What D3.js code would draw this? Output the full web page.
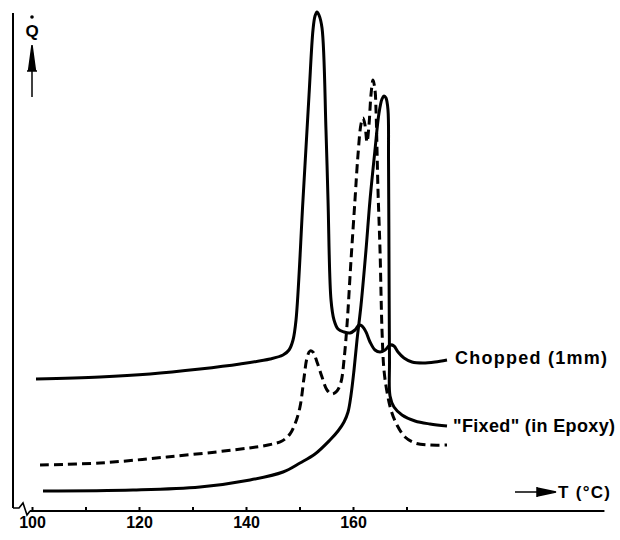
<!DOCTYPE html>
<html><head><meta charset="utf-8">
<script src="https://cdn.jsdelivr.net/npm/d3@7"></script>
<style>body{margin:0;background:#fff} svg{display:block} text{font-family:"Liberation Sans",Arial,Helvetica,sans-serif;font-weight:bold;fill:#000}</style>
</head><body><svg id="c" width="620" height="540"></svg>
<script>
// Temperature (°C) and heat-flow (arbitrary units)
const choppedT = [100.75,112.71,122.06,131.40,138.88,144.49,146.92,148.04,148.79,149.35,150.65,151.78,152.52,152.90,153.27,153.64,154.21,154.95,155.33,155.89,156.45,157.20,158.32,159.44,160.37,161.12,161.68,162.43,163.18,164.11,165.05,165.98,166.92,167.66,168.41,169.53,171.03,173.08,175.33,177.57];
const choppedQ = [26.4,26.8,27.4,28.4,29.4,30.4,31.2,32.2,34.2,38.2,62.2,83.2,96.2,99.0,99.8,99.2,96.6,76.2,62.2,42.2,38.2,36.4,35.8,35.6,36.2,37.2,37.0,35.8,33.8,32.2,31.8,32.2,33.2,33.0,31.8,30.6,29.8,29.6,29.8,30.2];

const dashedT = [101.50,112.71,125.23,137.57,144.11,146.73,148.22,149.16,150.09,150.84,151.40,151.96,152.52,153.27,154.21,155.14,156.07,157.01,157.76,158.32,158.88,159.63,160.37,160.93,161.50,161.87,162.24,162.62,162.99,163.36,163.74,164.11,164.30,164.67,165.05,165.42,165.79,166.36,167.10,168.22,169.72,171.59,174.39,177.57];
const dashedQ = [9.2,9.6,10.8,12.2,13.2,14.0,15.4,17.4,20.8,26.6,30.6,32.0,31.8,29.8,26.8,24.2,23.4,24.0,25.8,30.2,37.2,50.2,62.2,71.2,77.4,78.6,77.2,73.8,77.2,83.2,86.2,84.2,80.2,64.2,52.2,36.2,28.2,23.8,20.2,17.2,14.8,13.6,13.2,13.2];

const fixedT = [102.06,118.88,131.40,140.75,146.92,150.09,152.90,155.70,157.20,158.32,159.07,159.63,160.19,160.75,161.50,162.43,163.18,164.11,164.86,165.42,165.79,166.17,166.54,166.64,166.73,166.82,166.92,167.66,169.16,171.59,174.39,177.57];
const fixedQ = [4.0,4.2,4.8,6.2,7.8,9.6,11.4,14.2,16.0,17.8,19.8,23.2,28.2,34.2,41.2,52.2,62.2,72.2,79.6,82.4,83.0,82.6,80.2,70.2,50.2,30.2,23.0,20.8,19.2,18.0,17.4,17.0];

const tickValues = [100,110,120,130,140,150,160,170];
const tickLabels = [100,120,140,160];
const seriesLabels = ["Chopped (1mm)", "\"Fixed\" (in Epoxy)"];
const axisTitleX = "T (°C)";
const axisTitleY = "Q";

const svg = d3.select("#c");
const x = d3.scaleLinear().domain([100,180]).range([32,460]);
const y = d3.scaleLinear().domain([0,100]).range([511,11]);

const line = d3.line().x(d=>x(d[0])).y(d=>y(d[1])).curve(d3.curveCatmullRom.alpha(0.5));
const zip = (a,b)=>a.map((v,i)=>[v,b[i]]);

// axes
svg.append("line").attr("x1",13).attr("x2",13).attr("y1",13).attr("y2",y(0)-3)
  .attr("stroke","#000").attr("stroke-width",2);
svg.append("path").attr("d",`M13,${y(0)-3} L19,${y(0)-3} L23,${y(0)-8} L27,${y(0)+4} L30,${y(0)}`)
  .attr("fill","none").attr("stroke","#000").attr("stroke-width",1.6);
svg.append("line").attr("x1",x(99.6)).attr("x2",x(207)).attr("y1",y(0)).attr("y2",y(0))
  .attr("stroke","#000").attr("stroke-width",2);

const gx = svg.append("g").attr("transform",`translate(0,${y(0)})`)
  .call(d3.axisBottom(x).tickValues(tickValues).tickSize(-4).tickPadding(6)
    .tickFormat(d=>tickLabels.includes(d)?d3.format("d")(d):""));
gx.select(".domain").remove();
gx.selectAll(".tick line").attr("stroke","#000").attr("stroke-width",2);
gx.selectAll(".tick text").style("font-size","16px").style("font-family",'"Liberation Sans",Arial,sans-serif').style("font-weight","bold").attr("fill","#000");

// curves
svg.append("path").datum(zip(choppedT,choppedQ)).attr("d",line)
  .attr("fill","none").attr("stroke","#000").attr("stroke-width",3).attr("stroke-linejoin","round");
svg.append("path").datum(zip(dashedT,dashedQ)).attr("d",line)
  .attr("fill","none").attr("stroke","#000").attr("stroke-width",3).attr("stroke-dasharray","9,5");
svg.append("path").datum(zip(fixedT,fixedQ)).attr("d",line)
  .attr("fill","none").attr("stroke","#000").attr("stroke-width",3).attr("stroke-linejoin","round");

// series labels
svg.append("text").attr("x",x(choppedT[choppedT.length-1])+8).attr("y",364)
  .style("font-size","18px").attr("textLength",152).attr("lengthAdjust","spacing").text(seriesLabels[0]);
svg.append("text").attr("x",x(fixedT[fixedT.length-1])+6).attr("y",432)
  .style("font-size","18px").attr("textLength",162).attr("lengthAdjust","spacing").text(seriesLabels[1]);

// T arrow + title
svg.append("line").attr("x1",515).attr("x2",538).attr("y1",492).attr("y2",492).attr("stroke","#000").attr("stroke-width",1.5);
svg.append("path").attr("d","M537,487 L537,497 M537,488 L556,492 L537,496 Z").attr("fill","#000").attr("stroke","#000").attr("stroke-width",1.5);
svg.append("text").attr("x",558).attr("y",498).style("font-size","17px").attr("textLength",52).attr("lengthAdjust","spacing").text(axisTitleX);

// Q arrow + title
svg.append("line").attr("x1",32).attr("x2",32).attr("y1",97).attr("y2",65).attr("stroke","#000").attr("stroke-width",1.5);
svg.append("path").attr("d","M27,71 L37,71 M32,45 L28.5,71 L35.5,71 Z").attr("fill","#000").attr("stroke","#000").attr("stroke-width",1.5);
svg.append("text").attr("x",32).attr("y",37).attr("text-anchor","middle").style("font-size","17px").text(axisTitleY);
svg.append("circle").attr("cx",32).attr("cy",17).attr("r",1.8).attr("fill","#000");
</script>
</body></html>
